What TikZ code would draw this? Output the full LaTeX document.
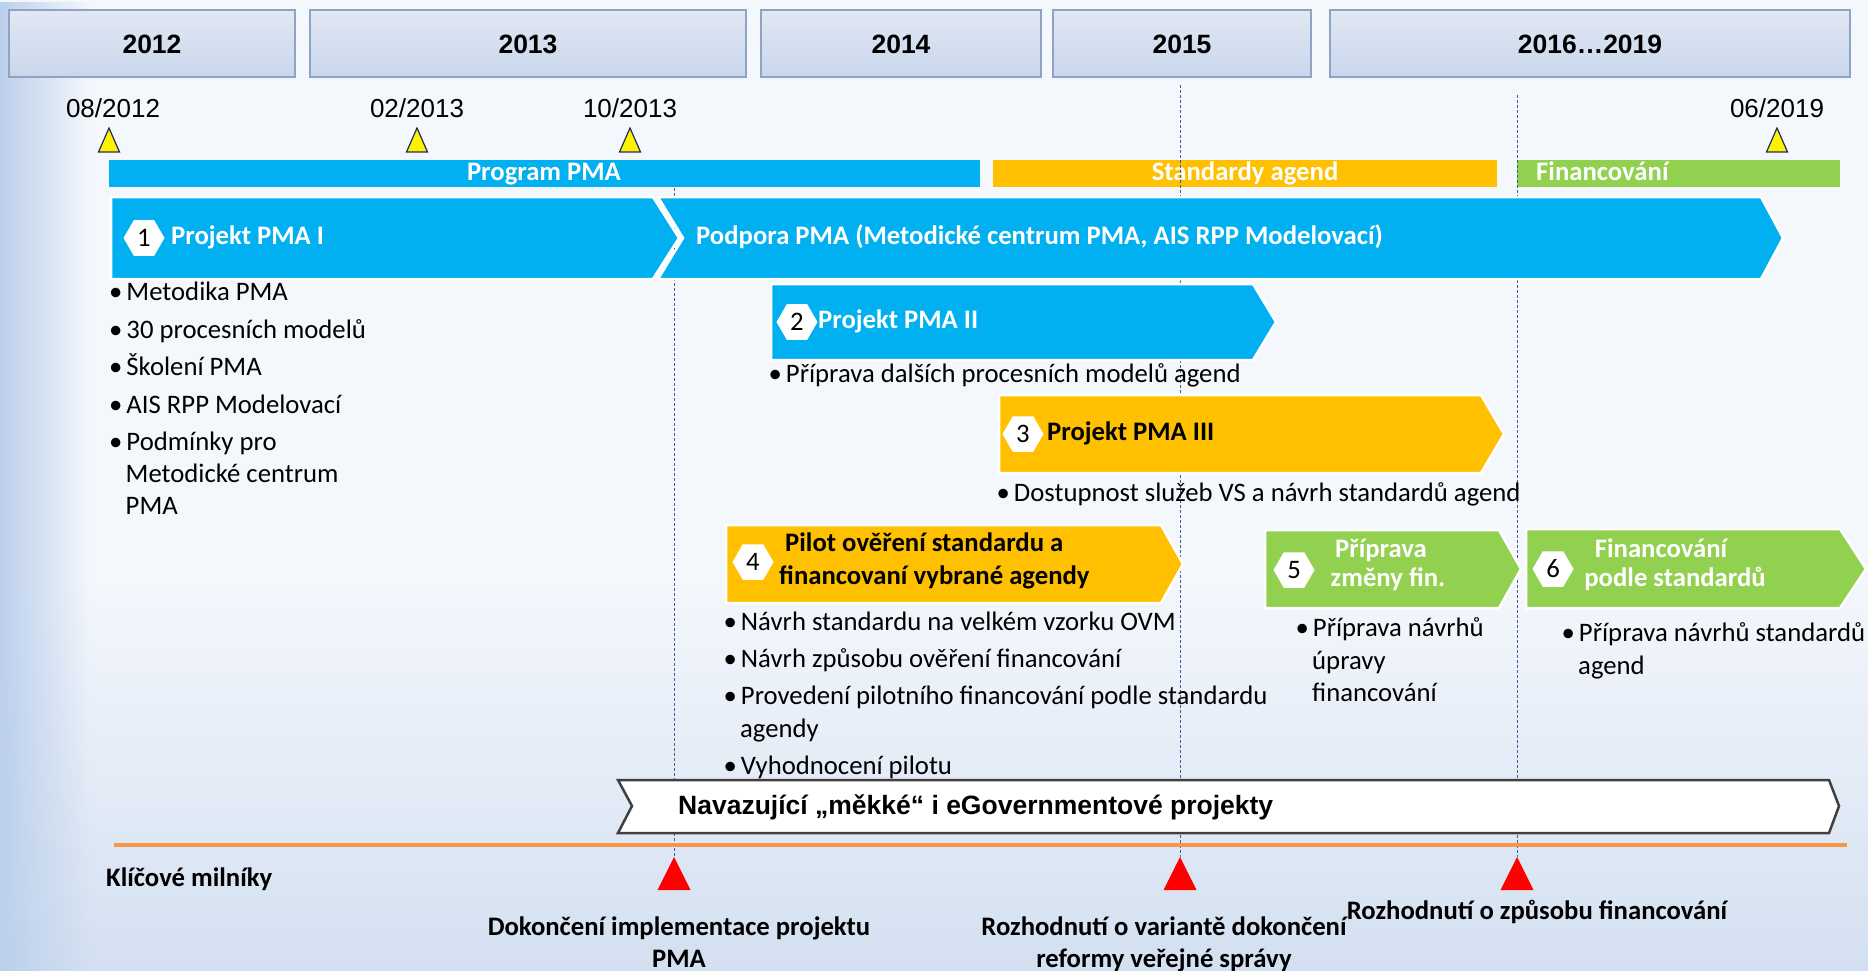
\documentclass[tikz,border=0pt]{standalone}
\usepackage{fontspec}
\setmainfont{Carlito}
\newfontfamily\arialf{Liberation Sans}
\usetikzlibrary{shapes.geometric,fadings}
\definecolor{pblue}{HTML}{00B0F0}
\definecolor{porange}{HTML}{FFC000}
\definecolor{pgreen}{HTML}{92D050}
\definecolor{bgtop}{HTML}{EEF2F8}
\definecolor{bgmid}{HTML}{F4F7FC}
\definecolor{bgbot}{HTML}{AAC3E3}
\definecolor{bgleft}{HTML}{BCD0EC}
\definecolor{yeartop}{HTML}{E2E8F3}
\definecolor{yearbot}{HTML}{C8D6EC}
\definecolor{yearedge}{HTML}{8FA3C3}
\definecolor{dashc}{HTML}{3F5F94}
\definecolor{milorange}{HTML}{F79646}
\definecolor{navy}{HTML}{1F2A6B}
\definecolor{navborder}{HTML}{404040}
\pgfdeclareverticalshading{bgshade}{100bp}{color(0bp)=(bgbot); color(45bp)=(bgmid); color(85bp)=(bgmid); color(100bp)=(bgtop)}
\newcommand\blt{•\hspace{4pt}}
\tikzset{
 txt/.style={font=\fontsize{26.7}{32}\selectfont, inner sep=0pt, text=black},
 btxt/.style={font=\bfseries\fontsize{26.7}{32}\selectfont, inner sep=0pt, text=black},
 wbtxt/.style={btxt, text=white},
 yearlbl/.style={font=\arialf\bfseries\fontsize{26.5}{30}\selectfont, inner sep=0pt},
 datelbl/.style={font=\arialf\fontsize{26}{30}\selectfont, inner sep=0pt},
 navlbl/.style={font=\arialf\bfseries\fontsize{26.5}{30}\selectfont, inner sep=0pt},
 hex/.style={regular polygon, regular polygon sides=6, fill=white, minimum size=41pt, inner sep=0pt, font=\fontsize{26.7}{30}\selectfont},
 chev/.style={draw=white, line width=2.5pt, line join=miter},
 dline/.style={dashc, line width=0.8pt, dash pattern=on 3pt off 2pt},
 ytri/.style={fill=yellow, draw=navy, line width=1.2pt, line join=miter},
 rtri/.style={fill=red},
 yearbox/.style={top color=yeartop, bottom color=yearbot, draw=yearedge, line width=1.5pt},
}
\begin{document}
\begin{tikzpicture}[x=1pt,y=-1pt]
\useasboundingbox (0,0) rectangle (1868,971);
% background
\shade[shading=bgshade] (0,0) rectangle (1868,971);
\fill[bgleft, path fading=east] (0,0) rectangle (90,971);
% year boxes
\path[yearbox] (9,10) rectangle (295,77);
\path[yearbox] (310,10) rectangle (746,77);
\path[yearbox] (761,10) rectangle (1041,77);
\path[yearbox] (1053,10) rectangle (1311,77);
\path[yearbox] (1330,10) rectangle (1850,77);
\node[yearlbl, anchor=base] (y12) at (152,54) {2012};
\node[yearlbl, anchor=base] (y13) at (528,54) {2013};
\node[yearlbl, anchor=base] (y14) at (901,54) {2014};
\node[yearlbl, anchor=base] (y15) at (1182,54) {2015};
\node[yearlbl, anchor=base] (y16) at (1590,54) {2016\dots2019};
% dates
\node[datelbl, anchor=base] (d1) at (113,118) {08/2012};
\node[datelbl, anchor=base] (d2) at (417,118) {02/2013};
\node[datelbl, anchor=base] (d3) at (630,118) {10/2013};
\node[datelbl, anchor=base] (d4) at (1777,118) {06/2019};
\path[ytri] (109,128) -- (119.5,152) -- (98.5,152) -- cycle;
\path[ytri] (417,128) -- (427.5,152) -- (406.5,152) -- cycle;
\path[ytri] (630,128) -- (640.5,152) -- (619.5,152) -- cycle;
\path[ytri] (1777,128) -- (1787.5,152) -- (1766.5,152) -- cycle;
% bars
\fill[pblue] (109,160) rectangle (980,187);
\fill[porange] (993,160) rectangle (1497,187);
\fill[pgreen] (1517,160) rectangle (1840,187);
\node[wbtxt, anchor=base] (bp) at (544,180) {Program PMA};
\node[wbtxt, anchor=base] (bs) at (1245,180) {Standardy agend};
\node[wbtxt, anchor=base west] (bf) at (1536,180) {Financování};
% dashed lines
\draw[dline] (674,188) -- (674,857);
\draw[dline] (1180,85) -- (1180,857);
\draw[dline] (1517,95) -- (1517,857);
% chevron 1
\path[chev, fill=pblue] (111,197) -- (653,197) -- (679,238) -- (653,279) -- (111,279) -- cycle;
\path[chev, fill=pblue] (658,197) -- (1761,197) -- (1783,238) -- (1761,279) -- (658,279) -- (683,238) -- cycle;
\node[hex] (h1) at (144,238) {1};
\node[wbtxt, anchor=base west] (c1) at (171,244) {Projekt PMA I};
\node[wbtxt, anchor=base west] (c1b) at (696,244) {Podpora PMA (Metodické centrum PMA, AIS RPP Modelovací)};
% chevron 2
\path[chev, fill=pblue] (771,284) -- (1253,284) -- (1276,322) -- (1253,360) -- (771,360) -- cycle;
\node[hex] (h2) at (797,322) {2};
\node[wbtxt, anchor=base west] (c2) at (818,328) {Projekt PMA II};
% chevron 3
\path[chev, fill=porange] (999,395) -- (1481,395) -- (1504,434) -- (1481,473) -- (999,473) -- cycle;
\node[hex] (h3) at (1023,434) {3};
\node[btxt, anchor=base west] (c3) at (1047,440) {Projekt PMA III};
% chevron 4
\path[chev, fill=porange] (726,525) -- (1161,525) -- (1183,564) -- (1161,603) -- (726,603) -- cycle;
\node[hex] (h4) at (753,562) {4};
\node[btxt, anchor=base west] (c4a) at (785,551) {Pilot ověření standardu a};
\node[btxt, anchor=base west] (c4b) at (779,584) {financovaní vybrané agendy};
% chevron 5
\path[chev, fill=pgreen] (1265,530) -- (1499,530) -- (1521,569) -- (1499,608) -- (1265,608) -- cycle;
\node[hex] (h5) at (1294,570) {5};
\node[wbtxt, anchor=base] (c5a) at (1381,557) {Příprava};
\node[wbtxt, anchor=base] (c5b) at (1388,586) {změny fin.};
% chevron 6
\path[chev, fill=pgreen] (1526,529) -- (1840,529) -- (1866,569) -- (1840,608) -- (1526,608) -- cycle;
\node[hex] (h6) at (1553,569) {6};
\node[wbtxt, anchor=base] (c6a) at (1661,557) {Financování};
\node[wbtxt, anchor=base] (c6b) at (1675,586) {podle standardů};
% bullet lists
\node[txt, anchor=base west] (l1a) at (109,300) {\blt Metodika PMA};
\node[txt, anchor=base west] (l1b) at (109,338) {\blt 30 procesních modelů};
\node[txt, anchor=base west] (l1c) at (109,375) {\blt Školení PMA};
\node[txt, anchor=base west] (l1d) at (109,413) {\blt AIS RPP Modelovací};
\node[txt, anchor=base west] (l1e) at (109,450) {\blt Podmínky pro};
\node[txt, anchor=base west] (l1f) at (125.5,482) {Metodické centrum};
\node[txt, anchor=base west] (l1g) at (125.5,514) {PMA};
\node[txt, anchor=base west] (l2a) at (768.5,382) {\blt Příprava dalších procesních modelů agend};
\node[txt, anchor=base west] (l3a) at (996.5,501) {\blt Dostupnost služeb VS a návrh standardů agend};
\node[txt, anchor=base west] (l4a) at (723.5,630) {\blt Návrh standardu na velkém vzorku OVM};
\node[txt, anchor=base west] (l4b) at (723.5,667) {\blt Návrh způsobu ověření financování};
\node[txt, anchor=base west] (l4c) at (723.5,704) {\blt Provedení pilotního financování podle standardu};
\node[txt, anchor=base west] (l4d) at (740,737) {agendy};
\node[txt, anchor=base west] (l4e) at (723.5,774) {\blt Vyhodnocení pilotu};
\node[txt, anchor=base west] (l5a) at (1295.5,636) {\blt Příprava návrhů};
\node[txt, anchor=base west] (l5b) at (1312,669) {úpravy};
\node[txt, anchor=base west] (l5c) at (1312,701) {financování};
\node[txt, anchor=base west] (l6a) at (1561.5,641) {\blt Příprava návrhů standardů};
\node[txt, anchor=base west] (l6b) at (1578,674) {agend};
% navazujici
\path[fill=white, draw=navborder, line width=2.5pt, line join=miter] (618,780) -- (1829,780) -- (1839,806) -- (1829,833) -- (618,833) -- (632,806) -- cycle;
\node[navlbl, anchor=base west] (nav) at (678,814) {Navazující „měkké“ i eGovernmentové projekty};
% milestones
\draw[milorange, line width=3.5pt] (114,845) -- (1847,845);
\node[btxt, anchor=base west] (km) at (106,886) {Klíčové milníky};
\path[rtri] (674,857) -- (690.5,890) -- (657.5,890) -- cycle;
\path[rtri] (1180,857) -- (1196.5,890) -- (1163.5,890) -- cycle;
\path[rtri] (1517,857) -- (1533.5,890) -- (1500.5,890) -- cycle;
\node[btxt, anchor=base] (m1a) at (679,935) {Dokončení implementace projektu};
\node[btxt, anchor=base] (m1b) at (679,967) {PMA};
\node[btxt, anchor=base] (m2a) at (1164,935) {Rozhodnutí o variantě dokončení};
\node[btxt, anchor=base] (m2b) at (1164,967) {reformy veřejné správy};
\node[btxt, anchor=base] (m3a) at (1537,919) {Rozhodnutí o způsobu financování};
\end{tikzpicture}
\end{document}
